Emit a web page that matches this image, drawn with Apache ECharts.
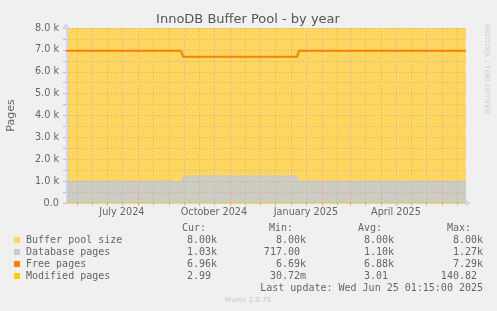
<!DOCTYPE html>
<html><head><meta charset="utf-8">
<script src="https://cdn.jsdelivr.net/npm/echarts@6/dist/echarts.min.js"></script>
<style>html,body{margin:0;padding:0;background:#F0F0F0;}#c{width:497px;height:311px;}</style>
</head><body><div id="c"></div>
<script>
// ---------- data ----------
const endTime = '2025-06-25T01:15:00Z';
const spanDays = 400;
const bufferPoolDates = ['2024-05-21', '2025-06-25'];
const bufferPoolValues = [8000, 8000];
const dbDates = ['2024-05-21','2024-09-03','2024-09-04','2024-09-13','2024-09-15','2025-01-07','2025-01-09','2025-06-25'];
const dbValues = [1030, 1030, 980, 980, 1270, 1270, 1030, 1030];
const freeDates = ['2024-05-21','2024-09-02','2024-09-03','2024-09-04','2024-09-13','2024-09-15','2025-01-07','2025-01-09','2025-06-25'];
const freeValues = [6960, 6960, 7050, 6960, 6960, 6690, 6690, 6960, 6960];
const modDates = ['2024-05-21','2024-09-15','2025-01-09','2025-06-25'];
const modValues = [3.2, 2.8, 3.0, 2.99];
const monthStarts = ['2024-06-01','2024-07-01','2024-08-01','2024-09-01','2024-10-01','2024-11-01','2024-12-01','2025-01-01','2025-02-01','2025-03-01','2025-04-01','2025-05-01','2025-06-01'];
const midMonths = ['2024-05-16','2024-06-16','2024-07-16','2024-08-16','2024-09-16','2024-10-16','2024-11-16','2024-12-16','2025-01-16','2025-02-16','2025-03-16','2025-04-16','2025-05-16','2025-06-16'];
const xLabelDates = ['2024-07-16','2024-10-16','2025-01-16','2025-04-16'];
const xLabelTexts = ['July 2024','October 2024','January 2025','April 2025'];
const yTickStep = 1000;
const legendNames = ['Buffer pool size','Database pages','Free pages','Modified pages'];
const legendColors = ['#FFD660','#CCCCC0','#FF7F00','#FFCC00'];
const statCur = ['8.00k','1.03k','6.96k','2.99 '];
const statMin = ['8.00k','717.00 ','6.69k','30.72m'];
const statAvg = ['8.00k','1.10k','6.88k','3.01 '];
const statMax = ['8.00k','1.27k','7.29k','140.82 '];
const lastUpdate = 'Last update: Wed Jun 25 01:15:00 2025';

// ---------- build ----------
const t = s => Date.parse(s.length === 10 ? s + 'T00:00:00Z' : s);
const xMax = t(endTime);
const xMin = xMax - spanDays * 86400000;
const pairs = (d, v) => d.map((s, i) => [t(s), v[i]]);
const MGRID = 'rgba(230,128,128,0.6)';
const GRID = 'rgba(170,170,170,0.7)';
const FONT = '#666666';
const AXIS = '#CFD6F8';

const chart = echarts.init(document.getElementById('c'), null, {renderer: 'canvas'});
const gridMarks = [];
monthStarts.forEach(s => gridMarks.push({xAxis: t(s), lineStyle: {color: MGRID, type: [1, 2], width: 1}}));
midMonths.forEach(s => { const v = t(s); if (v > xMin && v < xMax) gridMarks.push({xAxis: v, lineStyle: {color: GRID, type: [1, 2], width: 1}}); });

const graphics = [];
graphics.push({type: 'text', x: 248, y: 20, style: {text: 'InnoDB Buffer Pool - by year', font: '13px "DejaVu Sans"', fill: '#555', textAlign: 'center', textVerticalAlign: 'middle'}});
graphics.push({type: 'text', x: 487, y: 24, rotation: -Math.PI / 2, style: {text: 'RRDTOOL / TOBI OETIKER', font: '7px "DejaVu Sans"', fill: '#CCCCCC', textAlign: 'left', textVerticalAlign: 'middle'}});
const mono = '10px "DejaVu Sans Mono"';
const hdr = [['Cur:', 182], ['Min:', 269], ['Avg:', 358], ['Max:', 447]];
hdr.forEach(h => graphics.push({type: 'text', x: h[1], y: 228, style: {text: h[0], font: mono, fill: FONT, textAlign: 'left', textVerticalAlign: 'middle'}}));
legendNames.forEach((n, i) => {
  const y = 240 + i * 12;
  graphics.push({type: 'rect', shape: {x: 14, y: y - 3, width: 6, height: 6}, style: {fill: legendColors[i]}});
  graphics.push({type: 'text', x: 26, y: y, style: {text: n, font: mono, fill: FONT, textAlign: 'left', textVerticalAlign: 'middle'}});
  [[statCur, 217], [statMin, 306], [statAvg, 394], [statMax, 483]].forEach(c => {
    graphics.push({type: 'text', x: c[1], y: y, style: {text: c[0][i], font: mono, fill: FONT, textAlign: 'right', textVerticalAlign: 'middle'}});
  });
});
graphics.push({type: 'text', x: 483, y: 288, style: {text: lastUpdate, font: mono, fill: FONT, textAlign: 'right', textVerticalAlign: 'middle'}});
graphics.push({type: 'text', x: 248, y: 300, style: {text: 'Munin 2.0.75', font: '7px "DejaVu Sans"', fill: '#C8C8C8', textAlign: 'center', textVerticalAlign: 'middle'}});

chart.setOption({
  animation: false,
  backgroundColor: '#F0F0F0',
  grid: {left: 66, right: 31, top: 28, bottom: 108, containLabel: false, outerBoundsMode: 'none'},
  xAxis: [{
    type: 'value', min: xMin, max: xMax, z: 3,
    axisLine: {show: true, lineStyle: {color: AXIS, width: 1}, symbol: ['none', 'arrow'], symbolSize: [6, 6], symbolOffset: [0, 5]},
    axisTick: {show: true, customValues: monthStarts.map(t), length: 3, lineStyle: {color: MGRID}},
    axisLabel: {show: true, customValues: xLabelDates.map(t), margin: 4, color: FONT, fontSize: 9.7, fontFamily: 'DejaVu Sans',
      formatter: v => { const i = xLabelDates.map(t).indexOf(v); return i >= 0 ? xLabelTexts[i] : ''; }},
    splitLine: {show: false}
  }, {
    type: 'value', min: xMin, max: xMax, position: 'bottom', z: 3,
    axisLine: {show: false},
    axisTick: {show: true, customValues: midMonths.map(t).filter(v => v > xMin && v < xMax), length: 3, lineStyle: {color: GRID}},
    axisLabel: {show: false}, splitLine: {show: false}
  }],
  yAxis: {
    type: 'value', min: 0, max: 8000, interval: yTickStep, z: 3,
    name: 'Pages', nameLocation: 'middle', nameRotate: 90, nameGap: 49,
    nameTextStyle: {color: FONT, fontSize: 11, fontFamily: 'DejaVu Sans'},
    axisLine: {show: true, lineStyle: {color: AXIS}, symbol: ['none', 'arrow'], symbolSize: [6, 6], symbolOffset: [0, 5]},
    axisTick: {show: true, length: 3, lineStyle: {color: MGRID}},
    minorTick: {show: true, splitNumber: 2, length: 3, lineStyle: {color: GRID}},
    axisLabel: {color: FONT, fontSize: 9.7, fontFamily: 'DejaVu Sans', margin: 7,
      formatter: v => v === 0 ? '0.0' : (v / 1000).toFixed(1) + ' k'},
    splitLine: {show: true, lineStyle: {color: MGRID, type: [1, 2]}},
    minorSplitLine: {show: true, lineStyle: {color: GRID, type: [1, 2]}}
  },
  series: [
    {name: 'Buffer pool size', type: 'line', z: 1, data: pairs(bufferPoolDates, bufferPoolValues), symbol: 'none',
     lineStyle: {width: 0}, areaStyle: {color: legendColors[0], opacity: 1}},
    {name: 'Database pages', type: 'line', z: 1, data: pairs(dbDates, dbValues), symbol: 'none',
     lineStyle: {width: 0}, areaStyle: {color: legendColors[1], opacity: 1}},
    {name: 'grid', type: 'line', z: 3, data: [], symbol: 'none',
     markLine: {silent: true, symbol: ['none', 'none'], label: {show: false}, animation: false, data: gridMarks}},
    {name: 'Free pages', type: 'line', z: 4, data: pairs(freeDates, freeValues), symbol: 'none',
     lineStyle: {width: 2, color: legendColors[2]}},
    {name: 'Modified pages', type: 'line', z: 4, data: pairs(modDates, modValues), symbol: 'none',
     lineStyle: {width: 1, color: legendColors[3]}}
  ],
  graphic: graphics
});
</script></body></html>
